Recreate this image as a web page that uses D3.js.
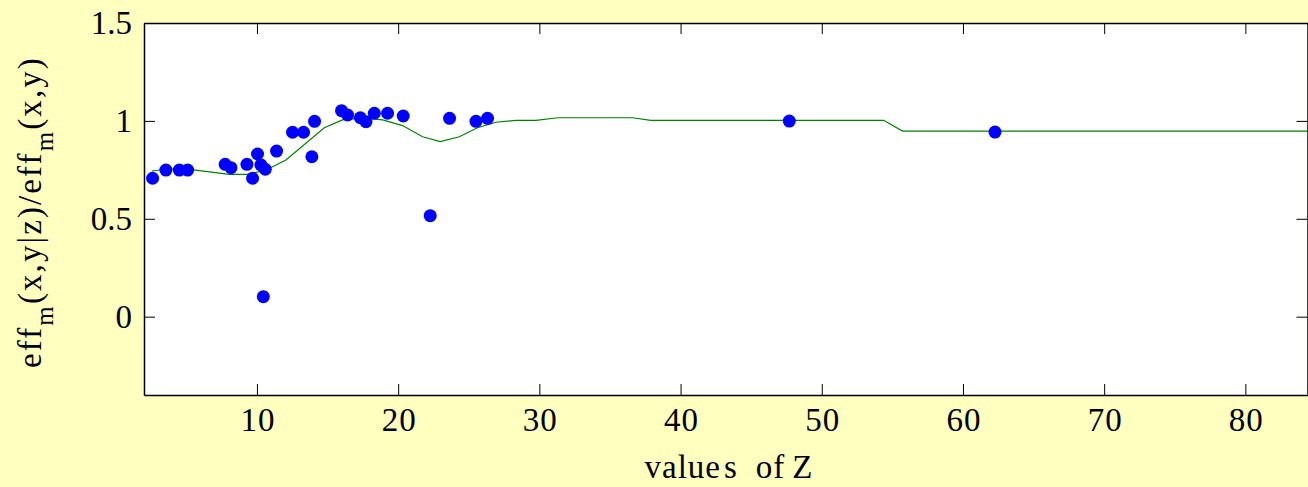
<!DOCTYPE html>
<html>
<head>
<meta charset="utf-8">
<script src="https://cdn.jsdelivr.net/npm/d3@7"></script>
<style>
  html, body { margin: 0; padding: 0; background: #ffffc0; }
  svg { display: block; }
  text { font-family: "Liberation Serif", "Times New Roman", serif; fill: #000; }
</style>
</head>
<body>
<svg id="chart" width="1308" height="487"></svg>
<script>
// Scatter points (Z value, ratio)
const pointZ = [2.61, 3.55, 4.50, 5.09, 7.75, 8.16, 9.29, 9.69, 10.04, 10.28, 10.59, 10.45, 11.39,
  12.52, 13.30, 13.89, 14.08, 15.99, 16.42, 17.32, 17.72, 18.31, 19.25, 20.36, 22.27, 23.64,
  25.51, 26.33, 47.7, 62.27];
const pointR = [0.707, 0.749, 0.749, 0.749, 0.778, 0.761, 0.778, 0.707, 0.831, 0.775, 0.753, 0.102, 0.846,
  0.942, 0.942, 0.817, 0.998, 1.052, 1.030, 1.016, 0.996, 1.039, 1.039, 1.025, 0.516, 1.013,
  0.998, 1.013, 0.999, 0.943];

// Smoothed curve (green)
const lineZ = [2.56, 3.55, 5.09, 8.04, 9.33, 10.64, 12.05, 14.77, 16.06, 17.48, 18.9, 20.31, 21.73,
  22.98, 24.33, 25.62, 26.93, 28.34, 29.76, 31.29, 36.6, 37.9, 54.38, 55.72, 85];
const lineR = [0.744, 0.753, 0.754, 0.727, 0.727, 0.749, 0.800, 0.965, 1.005, 1.015, 1.005, 0.976, 0.919,
  0.894, 0.919, 0.965, 0.993, 1.003, 1.003, 1.016, 1.016, 1.003, 1.003, 0.948, 0.948];

const xTicks = [10, 20, 30, 40, 50, 60, 70, 80];
const yTicks = [0, 0.5, 1, 1.5];
const yTickLabels = ["0", "0.5", "1", "1.5"];
const xDomain = [2, 84.4];
const yDomain = [-0.4, 1.5];

(function () {
const pLeft = 144, pRight = 1307.5, pTop = 23, pBottom = 395;
const svg = d3.select("#chart");

svg.append("rect").attr("width", 1308).attr("height", 487).attr("fill", "#ffffc0");
svg.append("rect").attr("x", pLeft).attr("y", pTop).attr("width", pRight - pLeft).attr("height", pBottom - pTop).attr("fill", "#ffffff");

const x = d3.scaleLinear().domain(xDomain).range([pLeft, pRight]);
const y = d3.scaleLinear().domain(yDomain).range([pBottom, pTop]);

svg.append("defs").append("clipPath").attr("id", "clip")
  .append("rect").attr("x", pLeft).attr("y", pTop).attr("width", pRight - pLeft).attr("height", pBottom - pTop);

const tickLen = 11;
const fontSize = 33;

function styleAxis(g) {
  g.selectAll(".domain").attr("stroke", "#000").attr("stroke-width", 1.5);
  g.selectAll(".tick line").attr("stroke", "#000").attr("stroke-width", 1);
  g.selectAll("text").attr("font-family", "Liberation Serif, Times New Roman, serif")
    .attr("font-size", fontSize).attr("fill", "#000");
}

// line
const lineData = lineZ.map((z, i) => [z, lineR[i]]);
svg.append("path")
  .attr("clip-path", "url(#clip)")
  .attr("d", d3.line().x(d => x(d[0])).y(d => y(d[1]))(lineData))
  .attr("fill", "none").attr("stroke", "#008000").attr("stroke-width", 1.2);

// points
svg.append("g").attr("clip-path", "url(#clip)")
  .selectAll("circle").data(pointZ.map((z, i) => [z, pointR[i]])).join("circle")
  .attr("cx", d => x(d[0])).attr("cy", d => y(d[1])).attr("r", 6.5).attr("fill", "#0000ff");

// bottom axis
svg.append("g").attr("transform", `translate(0,${pBottom})`)
  .call(d3.axisBottom(x).tickValues(xTicks).tickFormat(d3.format("d")).tickSizeInner(-tickLen).tickSizeOuter(0).tickPadding(13))
  .call(styleAxis)
  .call(g => g.selectAll("text").attr("letter-spacing", 1).attr("dx", 0.5));
// top axis
svg.append("g").attr("transform", `translate(0,${pTop})`)
  .call(d3.axisTop(x).tickValues(xTicks).tickFormat("").tickSizeInner(-tickLen).tickSizeOuter(0))
  .call(styleAxis);
// left axis
svg.append("g").attr("transform", `translate(${pLeft},0)`)
  .call(d3.axisLeft(y).tickValues(yTicks).tickFormat((d, i) => yTickLabels[i]).tickSizeInner(-tickLen).tickSizeOuter(0).tickPadding(12))
  .call(styleAxis);
// right axis
svg.append("g").attr("transform", `translate(${pRight},0)`)
  .call(d3.axisRight(y).tickValues(yTicks).tickFormat("").tickSizeInner(-tickLen).tickSizeOuter(0))
  .call(styleAxis);

// x label (MATLAB-style uneven spacing)
const xl = svg.append("text").attr("x", 729).attr("y", 478)
  .attr("text-anchor", "middle").attr("font-size", fontSize).attr("letter-spacing", 1);
xl.append("tspan").text("value");
xl.append("tspan").attr("dx", 3).text("s");
xl.append("tspan").attr("dx", 18).text("of");
xl.append("tspan").attr("dx", 7).text("Z");

// y label with subscripts
const yl = svg.append("text")
  .attr("transform", "translate(41,212) rotate(-90)")
  .attr("text-anchor", "middle").attr("font-size", fontSize)
  .attr("letter-spacing", 2.1);
yl.append("tspan").text("eff");
yl.append("tspan").attr("dy", 12).attr("font-size", 25).text("m");
yl.append("tspan").attr("dy", -12).text("(x,y|z)/eff");
yl.append("tspan").attr("dy", 12).attr("font-size", 25).text("m");
yl.append("tspan").attr("dy", -12).text("(x,y)");
})();
</script>
</body>
</html>
